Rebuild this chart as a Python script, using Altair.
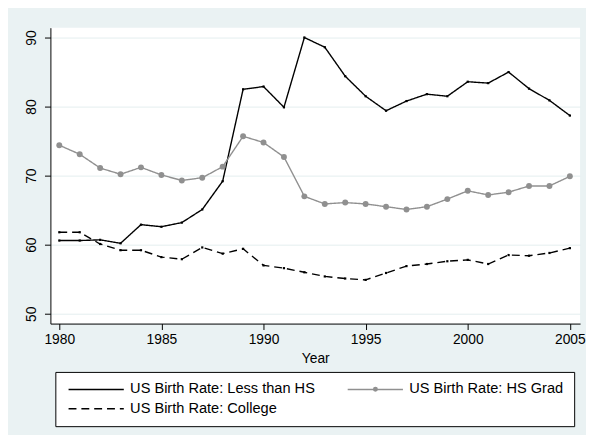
import altair as alt
import pandas as pd

years = list(range(1980, 2006))
less_hs = [60.6, 60.6, 60.7, 60.2, 62.9, 62.6, 63.2, 65.1, 69.2, 82.5, 82.9, 79.9, 90.0,
           88.6, 84.4, 81.5, 79.4, 80.8, 81.8, 81.5, 83.6, 83.4, 85.0, 82.6, 80.9, 78.7]
hs_grad = [74.4, 73.1, 71.1, 70.2, 71.2, 70.1, 69.3, 69.7, 71.3, 75.7, 74.8, 72.7, 67.0,
           65.9, 66.1, 65.9, 65.5, 65.1, 65.5, 66.6, 67.8, 67.2, 67.6, 68.5, 68.5, 69.9]
college = [61.8, 61.8, 60.1, 59.2, 59.2, 58.2, 57.9, 59.6, 58.7, 59.4, 57.0, 56.6, 56.0,
           55.4, 55.1, 54.9, 55.9, 56.9, 57.2, 57.6, 57.8, 57.2, 58.5, 58.4, 58.8, 59.5]

names = ["US Birth Rate: Less than HS", "US Birth Rate: HS Grad", "US Birth Rate: College"]
x_ticks = [1980, 1985, 1990, 1995, 2000, 2005]
y_ticks = [50, 60, 70, 80, 90]

rows = []
for name, vals in zip(names, [less_hs, hs_grad, college]):
    for yr, v in zip(years, vals):
        rows.append({"year": yr, "value": v, "series": name})
df = pd.DataFrame(rows)

FONT = "Liberation Sans"
GRAY = "#909090"
BG = "#EAF2F3"

x_enc = alt.X("year:Q",
              scale=alt.Scale(domain=[1979.565, 2005.5], nice=False, zero=False),
              axis=alt.Axis(values=x_ticks, format="d", title="Year", grid=False,
                            labelFont=FONT, labelFontSize=14, labelColor="black",
                            labelPadding=3, tickSize=6, tickColor="black",
                            domainColor="black", titleFont=FONT, titleFontSize=14,
                            titleFontWeight="normal", titleColor="black", titlePadding=5,
                            labelFlush=False))
y_enc = alt.Y("value:Q",
              scale=alt.Scale(domain=[48.5714, 91.4286], nice=False, zero=False),
              axis=alt.Axis(values=y_ticks, title=None, grid=True, gridColor="#E4EEEF",
                            gridWidth=1, labelAngle=270, labelAlign="center",
                            labelBaseline="bottom", labelFont=FONT, labelFontSize=14,
                            labelColor="black", labelPadding=6, tickSize=6,
                            tickColor="black", domainColor="black"))

# long horizontal stroke drawn with a small nominal symbol size
line_symbol = "M-7,0L7,0"

legend = alt.Legend(
    title=None, orient="none", legendX=5, legendY=349, columns=2, direction="horizontal",
    symbolType=line_symbol, symbolSize=64, symbolStrokeWidth=1.4, symbolOffset=24,
    labelFont=FONT, labelFontSize=14.8, labelColor="black", labelOffset=27,
    labelLimit=400, columnPadding=29, rowPadding=4, padding=10,
    strokeColor="black", fillColor="white",
)

lines = alt.Chart(df).mark_line(strokeWidth=1.4).encode(
    x=x_enc, y=y_enc,
    color=alt.Color("series:N", scale=alt.Scale(domain=names, range=["black", GRAY, "black"]),
                    legend=legend),
    strokeDash=alt.StrokeDash("series:N",
                              scale=alt.Scale(domain=names, range=[[1, 0], [1, 0], [8, 5]]),
                              legend=legend),
)

dot_legend = alt.Legend(
    title=None, orient="none", legendX=327, legendY=364, symbolSize=25,
    symbolFillColor=GRAY, symbolStrokeColor=GRAY, symbolStrokeWidth=0,
    labelOpacity=0, labelFontSize=1, labelOffset=0, padding=0,
)

hs_pts = alt.Chart(df).transform_filter(alt.datum.series == names[1]).mark_point(
    filled=True, size=36, color=GRAY, opacity=1).encode(
    x=x_enc, y=y_enc,
    shape=alt.Shape("series:N", scale=alt.Scale(domain=[names[1]], range=["circle"]),
                    legend=dot_legend))

blk_pts = alt.Chart(df).transform_filter(alt.datum.series != names[1]).mark_point(
    filled=True, size=5, color="black", opacity=1, shape="square").encode(x=x_enc, y=y_enc)

chart = alt.layer(lines, hs_pts, blk_pts).properties(
    width=537, height=300,
    autosize=alt.AutoSizeParams(type="none"),
    padding={"left": 43, "top": 17, "right": 6, "bottom": 110},
    background=BG,
).configure_view(fill="white", stroke=None)

chart.save("out.html", embed_options={"renderer": "svg", "actions": False})
